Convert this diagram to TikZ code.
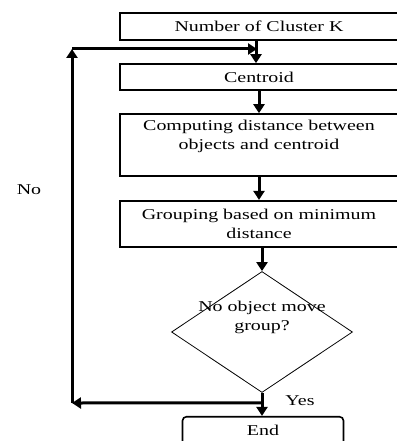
\documentclass[tikz,border=0pt]{standalone}
\usepackage{fontspec}
\setmainfont{Liberation Serif}[FakeStretch=1.33]
\usepackage{tikz}
\usetikzlibrary{arrows.meta, shapes.geometric, calc}

\begin{document}
\begin{tikzpicture}[x=1pt,y=-1pt,
    font=\fontsize{15}{19}\selectfont,
    box/.style={draw, line width=1.6pt, minimum width=278pt, inner sep=0pt, align=center},
    flow/.style={line width=3pt, -{Triangle[width=11pt,length=9pt]}},
    decision/.style={draw, diamond, line width=0.8pt, minimum width=181pt, minimum height=121pt, inner sep=0pt}]
            \useasboundingbox (0,0) rectangle (396,441);
            %\draw [step=20pt] (0,0) grid (396,441);
            \node[box, minimum height=27pt] (clusters) at (259,26.7) {Number of Cluster K};
            \node[box, minimum height=26pt] (centroid) at (259,77) {Centroid};
            \node[box, minimum height=62pt, text depth=20pt] (distance) at (259,145) {Computing distance between\\objects and centroid};
            \node[box, minimum height=46pt] (grouping) at (259,223.7) {Grouping based on minimum\\distance};
            \node[decision] (check) at (262,332) {};
            \node[align=center] (checktext) at (262,317) {No object move\\group?};
            \node[box, rounded corners=4pt, minimum width=161pt, minimum height=28pt] (finish) at (263,430.7) {End};

            \node (no) at (29,190) {No};
            \node (yes) at (300,401) {Yes};

            \coordinate (split) at ($(check.south)+(0,10)$);
            \coordinate (cornerlow) at (72,403);
            \coordinate (cornerhigh) at (72,49);
            \coordinate (merge) at ($(clusters.south |- cornerhigh)+(-2,0)$);

            \draw[flow] ($(clusters.south)+(-3,0)$) -- ($(centroid.north)+(-3,0)$);
            \draw[flow] (centroid.south) -- (distance.north);
            \draw[flow] (distance.south) -- (grouping.north);
            \draw[flow] (grouping.south -| check.north) -- (check.north);
            \draw[flow] (check.south) -- (check.south |- finish.north);
            \draw[flow] (split) -- (cornerlow);
            \draw[flow] (cornerlow) -- (cornerhigh);
            \draw[flow] (cornerhigh) -- (merge);
\end{tikzpicture}
\end{document}
